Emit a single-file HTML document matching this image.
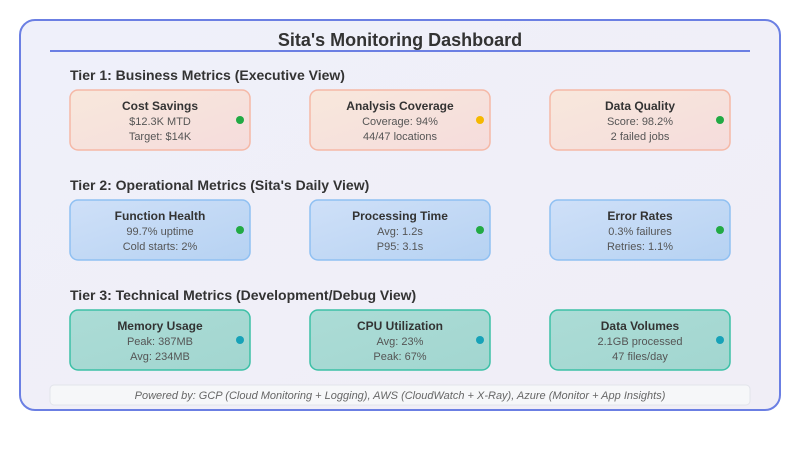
<!DOCTYPE html>
<html><head><meta charset="utf-8"><style>body{margin:0;background:#fff}</style></head><body>
<svg width="800" height="450" xmlns="http://www.w3.org/2000/svg" font-family="Liberation Sans, sans-serif">
<defs>
<linearGradient id="g1" x1="0" y1="0" x2="1" y2="1"><stop offset="0" stop-color="#f8e8dc"/><stop offset="1" stop-color="#f5dcdc"/></linearGradient>
<linearGradient id="g2" x1="0" y1="0" x2="1" y2="1"><stop offset="0" stop-color="#cfe0f8"/><stop offset="1" stop-color="#b6d2f2"/></linearGradient>
<linearGradient id="g3" x1="0" y1="0" x2="1" y2="1"><stop offset="0" stop-color="#acdcd6"/><stop offset="1" stop-color="#a2d6d0"/></linearGradient>
<linearGradient id="bg" x1="0" y1="0" x2="1" y2="1"><stop offset="0" stop-color="#eff0fa"/><stop offset="1" stop-color="#f0eef6"/></linearGradient>
</defs>
<rect x="20" y="20" width="760" height="390" rx="15" fill="url(#bg)" stroke="#6b7fe3" stroke-width="2"/>
<text x="400" y="46" text-anchor="middle" font-size="18" font-weight="bold" fill="#333">Sita's Monitoring Dashboard</text>
<line x1="50" y1="51" x2="750" y2="51" stroke="#6b7fe3" stroke-width="2"/>
<g font-size="14" font-weight="bold" fill="#333">
<text x="70" y="80">Tier 1: Business Metrics (Executive View)</text>
<text x="70" y="190">Tier 2: Operational Metrics (Sita's Daily View)</text>
<text x="70" y="300">Tier 3: Technical Metrics (Development/Debug View)</text>
</g>
<g text-anchor="middle" fill="#555" font-size="11">
<!-- tier1 -->
<g fill="url(#g1)" stroke="#f5b8a6" stroke-width="1.5">
<rect x="70" y="90" width="180" height="60" rx="8"/><rect x="310" y="90" width="180" height="60" rx="8"/><rect x="550" y="90" width="180" height="60" rx="8"/></g>
<g fill="url(#g2)" stroke="#8fc0f2" stroke-width="1.5">
<rect x="70" y="200" width="180" height="60" rx="8"/><rect x="310" y="200" width="180" height="60" rx="8"/><rect x="550" y="200" width="180" height="60" rx="8"/></g>
<g fill="url(#g3)" stroke="#3cc0a6" stroke-width="1.5">
<rect x="70" y="310" width="180" height="60" rx="8"/><rect x="310" y="310" width="180" height="60" rx="8"/><rect x="550" y="310" width="180" height="60" rx="8"/></g>
<g font-size="12" font-weight="bold" fill="#333">
<text x="160" y="110">Cost Savings</text><text x="400" y="110">Analysis Coverage</text><text x="640" y="110">Data Quality</text>
<text x="160" y="220">Function Health</text><text x="400" y="220">Processing Time</text><text x="640" y="220">Error Rates</text>
<text x="160" y="330">Memory Usage</text><text x="400" y="330">CPU Utilization</text><text x="640" y="330">Data Volumes</text>
</g>
<text x="160" y="125">$12.3K MTD</text><text x="160" y="140">Target: $14K</text>
<text x="400" y="125">Coverage: 94%</text><text x="400" y="140">44/47 locations</text>
<text x="640" y="125">Score: 98.2%</text><text x="640" y="140">2 failed jobs</text>
<text x="160" y="235">99.7% uptime</text><text x="160" y="250">Cold starts: 2%</text>
<text x="400" y="235">Avg: 1.2s</text><text x="400" y="250">P95: 3.1s</text>
<text x="640" y="235">0.3% failures</text><text x="640" y="250">Retries: 1.1%</text>
<text x="160" y="345">Peak: 387MB</text><text x="160" y="360">Avg: 234MB</text>
<text x="400" y="345">Avg: 23%</text><text x="400" y="360">Peak: 67%</text>
<text x="640" y="345">2.1GB processed</text><text x="640" y="360">47 files/day</text>
</g>
<g>
<circle cx="240" cy="120" r="4" fill="#22aa44"/><circle cx="480" cy="120" r="4" fill="#f5b800"/><circle cx="720" cy="120" r="4" fill="#22aa44"/>
<circle cx="240" cy="230" r="4" fill="#22aa44"/><circle cx="480" cy="230" r="4" fill="#22aa44"/><circle cx="720" cy="230" r="4" fill="#22aa44"/>
<circle cx="240" cy="340" r="4" fill="#17a2b8"/><circle cx="480" cy="340" r="4" fill="#17a2b8"/><circle cx="720" cy="340" r="4" fill="#17a2b8"/>
</g>
<rect x="50" y="385" width="700" height="20" rx="4" fill="#f6f7f9" stroke="#e2e4ea"/>
<text x="400" y="399" text-anchor="middle" font-size="11" font-style="italic" fill="#666">Powered by: GCP (Cloud Monitoring + Logging), AWS (CloudWatch + X-Ray), Azure (Monitor + App Insights)</text>
</svg>
</body></html>
